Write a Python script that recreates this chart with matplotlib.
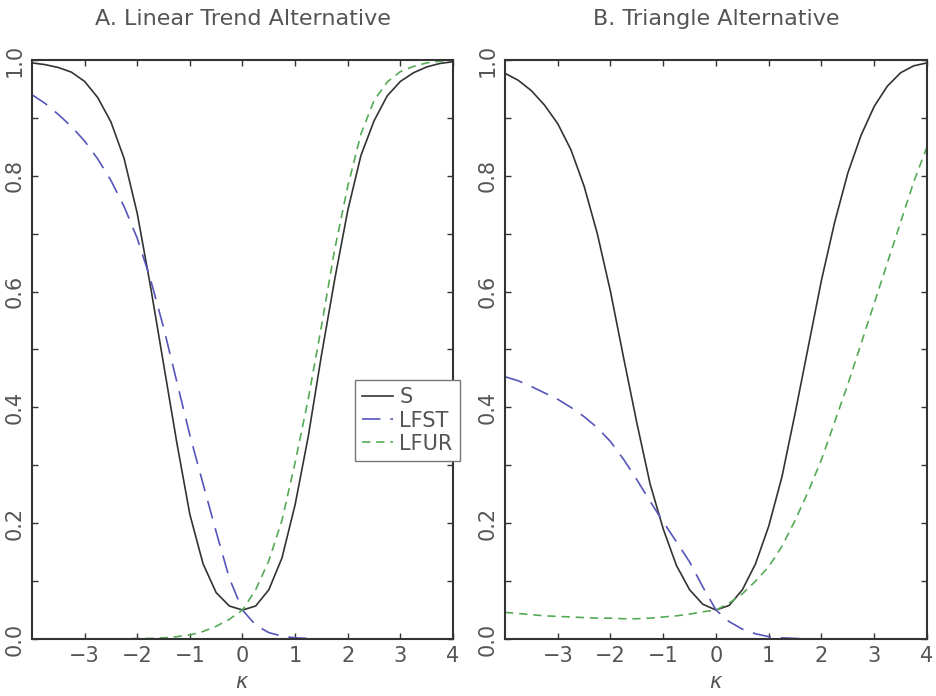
import numpy as np
from matplotlib import pyplot as plt
from matplotlib.ticker import MultipleLocator

# power curves, kappa from -4 to 4 in steps of 0.25
kappa = np.arange(-4, 4.01, 0.25)

# A. Linear Trend Alternative
a_S = [0.995, 0.992, 0.987, 0.979, 0.963, 0.935, 0.893, 0.830, 0.735, 0.610, 0.475,
       0.340, 0.215, 0.130, 0.080, 0.057, 0.050, 0.057, 0.085, 0.140, 0.232, 0.350,
       0.490, 0.620, 0.740, 0.835, 0.895, 0.938, 0.963, 0.978, 0.988, 0.994, 0.997]
a_LFST = [0.940, 0.925, 0.906, 0.885, 0.860, 0.829, 0.792, 0.747, 0.692, 0.622, 0.538,
          0.445, 0.352, 0.268, 0.185, 0.105, 0.050, 0.024, 0.011, 0.005, 0.002, 0.001,
          0.0, 0.0, 0.0, 0.0, 0.0, 0.0, 0.0, 0.0, 0.0, 0.0, 0.0]
a_LFUR = [0.0, 0.0, 0.0, 0.0, 0.0, 0.0, 0.0, 0.0, 0.001, 0.001, 0.002,
          0.004, 0.007, 0.013, 0.022, 0.034, 0.050, 0.085, 0.135, 0.205, 0.305, 0.415,
          0.540, 0.672, 0.782, 0.872, 0.930, 0.962, 0.980, 0.989, 0.995, 0.998, 1.0]

# B. Triangle Alternative
b_S = [0.977, 0.965, 0.947, 0.922, 0.890, 0.845, 0.782, 0.700, 0.600, 0.485, 0.373,
       0.268, 0.190, 0.127, 0.085, 0.060, 0.050, 0.058, 0.085, 0.130, 0.195, 0.280,
       0.390, 0.505, 0.620, 0.720, 0.805, 0.870, 0.920, 0.955, 0.978, 0.990, 0.995]
b_LFST = [0.453, 0.446, 0.436, 0.425, 0.414, 0.400, 0.384, 0.365, 0.341, 0.310, 0.275,
          0.238, 0.202, 0.168, 0.133, 0.090, 0.050, 0.030, 0.017, 0.009, 0.004, 0.002,
          0.001, 0.0, 0.0, 0.0, 0.0, 0.0, 0.0, 0.0, 0.0, 0.0, 0.0]
b_LFUR = [0.046, 0.044, 0.042, 0.040, 0.039, 0.038, 0.037, 0.036, 0.036, 0.035, 0.035,
          0.036, 0.038, 0.040, 0.043, 0.047, 0.050, 0.062, 0.078, 0.100, 0.125, 0.160,
          0.205, 0.255, 0.310, 0.375, 0.440, 0.510, 0.580, 0.650, 0.720, 0.790, 0.850]

titles = ["A. Linear Trend Alternative", "B. Triangle Alternative"]
xticks = [-3, -2, -1, 0, 1, 2, 3, 4]
yticks = [0.0, 0.2, 0.4, 0.6, 0.8, 1.0]

plt.rcParams['font.family'] = ['DejaVu Sans']
txt = '#555555'
axcol = '#333333'

fig = plt.figure(figsize=(9.37, 6.96), dpi=100)
axA = fig.add_axes([32/937, 57/696, 421/937, 579/696])
axB = fig.add_axes([505/937, 57/696, 422/937, 579/696])

for ax, title, S, LFST, LFUR in [(axA, titles[0], a_S, a_LFST, a_LFUR),
                                 (axB, titles[1], b_S, b_LFST, b_LFUR)]:
    ax.plot(kappa, S, color='#333333', lw=1.2, label='S')
    ax.plot(kappa, LFST, color='#5555bb', lw=1.2, dashes=(11, 6), label='LFST')
    ax.plot(kappa, LFUR, color='#55aa55', lw=1.2, dashes=(5, 3.5), label='LFUR')
    ax.set_xlim(-4, 4)
    ax.set_ylim(0, 1)
    ax.set_xticks(xticks)
    ax.set_xticklabels([str(t).replace('-', '\u2212') for t in xticks])
    ax.set_yticks(yticks)
    ax.set_yticklabels(['%.1f' % t for t in yticks], rotation=90, va='center')
    ax.yaxis.set_minor_locator(MultipleLocator(0.1))
    ax.tick_params(which='both', direction='in', top=True, right=True, length=4,
                   width=1, color=axcol, labelsize=15, labelcolor=txt, pad=5)
    for sp in ax.spines.values():
        sp.set_color(axcol)
        sp.set_linewidth(1.5)
    ax.set_xlabel(r'$\kappa$', fontsize=15, color=txt, labelpad=4)
    ax.set_title(title, fontsize=16, color=txt, pad=25)

leg = axA.legend(loc='upper right', bbox_to_anchor=(1.017, 0.447), borderaxespad=0,
                 fontsize=15, handlelength=1.5, handletextpad=0.3, labelspacing=0.15,
                 borderpad=0.35, fancybox=False, framealpha=1, edgecolor='#777777')
leg.get_frame().set_linewidth(1.0)
for t in leg.get_texts():
    t.set_color(txt)

plt.savefig('out.png', dpi=100)
